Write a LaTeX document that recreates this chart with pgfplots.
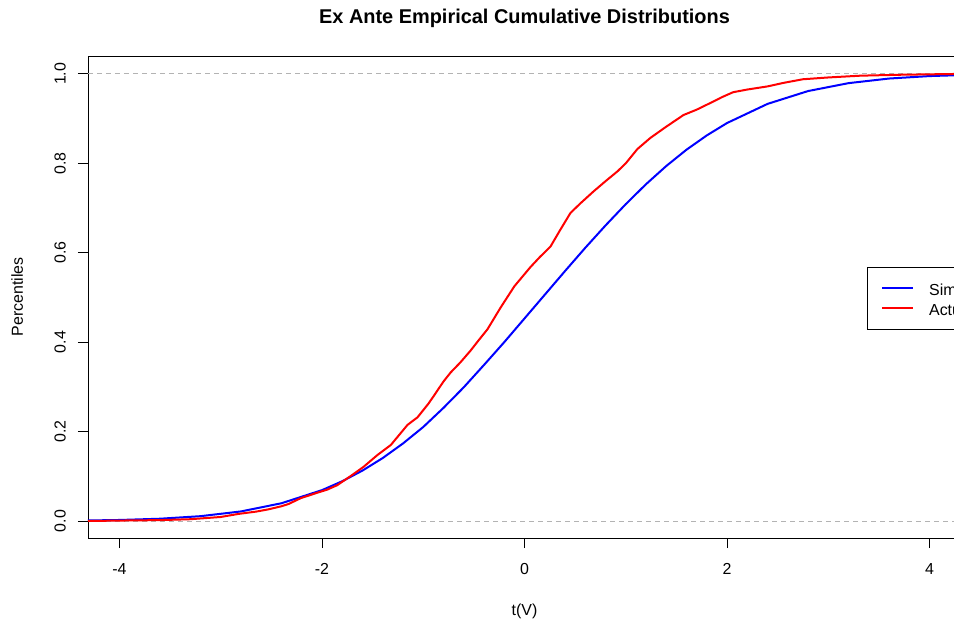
\documentclass[border=0pt]{standalone}
\usepackage{fontspec}
\setmainfont{Liberation Sans}
\usepackage{pgfplots}
\pgfplotsset{compat=1.18}
\definecolor{gray70}{RGB}{179,179,179}

\begin{document}
\begin{tikzpicture}
% picture frame: the reference is cut at its right edge
\path[use as bounding box, clip] (-88bp,-85bp) rectangle (866bp,538bp);
\begin{axis}[
    scale only axis,
    width=873bp, height=482bp,
    xmin=-4.31, xmax=4.31,
    ymin=-0.038, ymax=1.04,
    axis line style={line width=0.8bp},
    tick pos=left,
    tick align=outside,
    major tick length=10bp,
    tick style={line width=0.8bp, black},
    xtick={-4,-2,0,2,4},
    ytick={0,0.2,0.4,0.6,0.8,1},
    /pgf/number format/assume math mode=true,
    yticklabel={\pgfmathprintnumber[fixed,fixed zerofill,precision=1]{\tick}},
    ticklabel style={font=\fontsize{16}{19}\selectfont},
    yticklabel style={rotate=90, anchor=south, inner xsep=0pt, inner ysep=12bp},
    xticklabel style={anchor=north, inner sep=0pt, yshift=-15bp},
    xlabel={t(V)},
    ylabel={Percentiles},
    every axis x label/.style={at={(axis description cs:0.5,0)}, anchor=base, yshift=-77bp, font=\fontsize{16}{19}\selectfont},
    every axis y label/.style={at={(axis description cs:0,0.5)}, xshift=-65bp, rotate=90, anchor=base, font=\fontsize{16}{19}\selectfont},
    title={Ex Ante Empirical Cumulative Distributions},
    title style={at={(axis description cs:0.5,1)}, anchor=base, yshift=27bp, font=\bfseries\fontsize{20}{24}\selectfont},
    legend style={at={(axis cs:3.379,0.568)}, anchor=north west, draw=black, line width=0.8bp, fill=white,
        font=\fontsize{16}{19}\selectfont, inner xsep=14bp, inner ysep=11bp, row sep=0pt,
        nodes={inner sep=0pt, text height=16.6bp, text depth=3.4bp},
        /tikz/every odd column/.append style={column sep=15bp}},
    legend cell align=left,
    legend image code/.code={\draw[#1] (0bp,0bp) -- (31bp,0bp);},
]
% reference lines at 0 and 1
\addplot[gray70, line width=0.8bp, dash pattern=on 5bp off 4bp, forget plot] coordinates {(-4.31,0) (4.31,0)};
\addplot[gray70, line width=0.8bp, dash pattern=on 5bp off 4bp, forget plot] coordinates {(-4.31,1) (4.31,1)};

% simulated
\addplot[blue, line width=2bp] coordinates {
    (-4.31,0.0012) (-4.0,0.0023) (-3.6,0.0051) (-3.2,0.0108) (-2.8,0.0214)
    (-2.4,0.0397) (-2.0,0.0690) (-1.8,0.0889) (-1.6,0.1128) (-1.4,0.1408)
    (-1.2,0.1734) (-1.0,0.2102) (-0.8,0.2530) (-0.6,0.2990) (-0.4,0.3490)
    (-0.2,0.4000) (0.0,0.4530) (0.2,0.5060) (0.4,0.5590) (0.6,0.6110)
    (0.8,0.6610) (1.0,0.7087) (1.2,0.7533) (1.4,0.7940) (1.6,0.8305)
    (1.8,0.8624) (2.0,0.8901) (2.4,0.9329) (2.8,0.9616) (3.2,0.9793)
    (3.6,0.9896) (4.0,0.9951) (4.31,0.9973)
};
\addlegendentry{Simulated}

% actual
\addplot[red, line width=2bp] coordinates {
    (-4.31,0.000) (-4.0,0.001) (-3.6,0.002) (-3.3,0.004) (-3.0,0.009)
    (-2.82,0.016) (-2.65,0.021) (-2.53,0.026) (-2.40,0.033) (-2.33,0.038)
    (-2.21,0.051) (-2.05,0.063) (-1.95,0.070) (-1.85,0.080) (-1.72,0.100)
    (-1.59,0.121) (-1.45,0.148) (-1.32,0.170) (-1.155,0.215) (-1.056,0.232)
    (-0.95,0.262) (-0.898,0.279) (-0.80,0.312) (-0.73,0.332) (-0.632,0.355)
    (-0.533,0.381) (-0.45,0.405) (-0.365,0.429) (-0.237,0.477) (-0.10,0.525)
    (0.059,0.568) (0.15,0.590) (0.257,0.614) (0.35,0.650) (0.454,0.689)
    (0.55,0.710) (0.681,0.737) (0.80,0.760) (0.918,0.782) (1.0,0.800)
    (1.115,0.832) (1.244,0.857) (1.40,0.882) (1.57,0.908) (1.70,0.920)
    (1.836,0.935) (1.95,0.948) (2.06,0.959) (2.20,0.965) (2.40,0.972)
    (2.56,0.980) (2.75,0.988) (3.0,0.992) (3.32,0.996) (3.7,0.998)
    (4.0,0.999) (4.31,1.000)
};
\addlegendentry{Actual}
\end{axis}
\end{tikzpicture}
\end{document}
